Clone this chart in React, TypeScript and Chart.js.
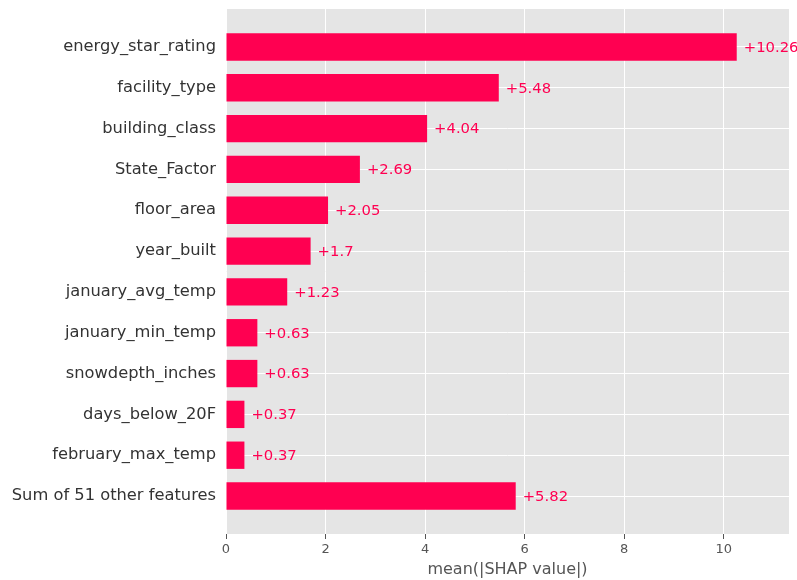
import React, { useEffect, useRef } from "react";
import { Chart, registerables } from "chart.js";

Chart.register(...registerables);

const featureLabels = [
  "energy_star_rating",
  "facility_type",
  "building_class",
  "State_Factor",
  "floor_area",
  "year_built",
  "january_avg_temp",
  "january_min_temp",
  "snowdepth_inches",
  "days_below_20F",
  "february_max_temp",
  "Sum of 51 other features",
];

const shapValues = [10.26, 5.48, 4.04, 2.69, 2.05, 1.7, 1.23, 0.63, 0.63, 0.37, 0.37, 5.82];

const xTicks = [0, 2, 4, 6, 8, 10];

const BAR_COLOR = "#ff0051";
const FONT = "'DejaVu Sans', sans-serif";

const bgPlugin = {
  id: "bgPlugin",
  beforeDraw(chart: any) {
    const { ctx, chartArea } = chart;
    ctx.save();
    ctx.fillStyle = "#e5e5e5";
    ctx.fillRect(chartArea.left, chartArea.top, chartArea.right - chartArea.left, chartArea.bottom - chartArea.top);
    ctx.restore();
  },
};

const valueLabelPlugin = {
  id: "valueLabelPlugin",
  afterDatasetsDraw(chart: any) {
    const { ctx } = chart;
    const meta = chart.getDatasetMeta(0);
    ctx.save();
    ctx.font = `14.8px ${FONT}`;
    ctx.fillStyle = BAR_COLOR;
    ctx.textAlign = "left";
    ctx.textBaseline = "middle";
    meta.data.forEach((el: any, i: number) => {
      ctx.fillText("+" + String(shapValues[i]), el.x + 7, el.y + 1);
    });
    ctx.restore();
  },
};

export default function App() {
  const canvasRef = useRef<HTMLCanvasElement | null>(null);

  useEffect(() => {
    if (!canvasRef.current) return;
    const chart = new Chart(canvasRef.current, {
      type: "bar",
      data: {
        datasets: [
          {
            data: shapValues.map((v, i) => ({ x: v, y: i })),
            backgroundColor: BAR_COLOR,
            borderWidth: 0,
            barPercentage: 0.67,
            categoryPercentage: 1,
          },
        ],
      },
      options: {
        indexAxis: "y",
        animation: false,
        responsive: false,
        maintainAspectRatio: false,
        layout: { padding: { top: 0, right: 8, bottom: 0, left: 0 } },
        plugins: {
          legend: { display: false },
          tooltip: { enabled: false },
        },
        scales: {
          x: {
            type: "linear",
            min: 0,
            max: 11.31,
            afterBuildTicks: (scale: any) => {
              scale.ticks = xTicks.map((v) => ({ value: v }));
            },
            afterFit: (scale: any) => {
              scale.height = 46;
            },
            grid: {
              color: "#ffffff",
              lineWidth: 1,
              drawTicks: true,
              tickLength: 5,
              tickColor: "#555555",
            },
            border: { display: false },
            ticks: {
              font: { family: FONT, size: 13 },
              color: "#555555",
              padding: 3,
              maxRotation: 0,
            },
            title: {
              display: true,
              text: "mean(|SHAP value|)",
              font: { family: FONT, size: 16, lineHeight: 1.2 },
              color: "#555555",
              padding: { top: 4, bottom: 1 },
            },
          },
          y: {
            type: "linear",
            reverse: true,
            offset: false,
            min: -0.93,
            max: featureLabels.length - 1 + 0.93,
            afterBuildTicks: (scale: any) => {
              scale.ticks = featureLabels.map((_, i) => ({ value: i }));
            },
            afterFit: (scale: any) => {
              scale.width = 226;
              scale.paddingTop = 9;
              scale.paddingBottom = 0;
            },
            grid: {
              color: "#ffffff",
              lineWidth: 1,
              drawTicks: false,
              offset: false,
            },
            border: { display: false },
            ticks: {
              autoSkip: false,
              font: { family: FONT, size: 16.3 },
              color: "#333333",
              padding: 10,
              callback: (v: any) => featureLabels[Math.round(Number(v))] ?? "",
            },
          },
        },
      } as any,
      plugins: [bgPlugin, valueLabelPlugin],
    });
    return () => chart.destroy();
  }, []);

  return (
    <div style={{ position: "fixed", left: 0, top: 0, width: 797, height: 580, background: "#ffffff" }}>
      <canvas ref={canvasRef} width={797} height={580} style={{ display: "block" }} />
    </div>
  );
}
